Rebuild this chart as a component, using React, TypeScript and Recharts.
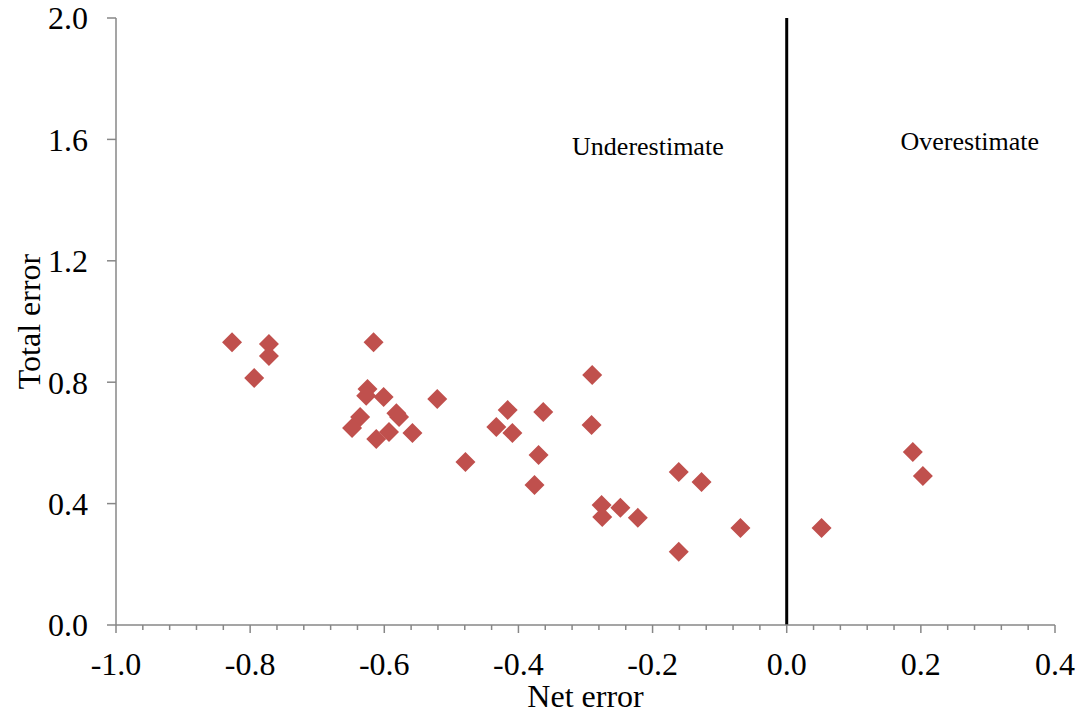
import React from 'react';
import {
  ScatterChart,
  Scatter,
  XAxis,
  YAxis,
  ReferenceLine,
  ReferenceDot,
} from 'recharts';

const netError = [
  -0.827, -0.772, -0.772, -0.794, -0.616, -0.625, -0.627, -0.601, -0.636, -0.648,
  -0.582, -0.578, -0.612, -0.593, -0.558, -0.521, -0.479, -0.416, -0.433, -0.409,
  -0.363, -0.37, -0.376, -0.29, -0.291, -0.276, -0.275, -0.248, -0.222, -0.161,
  -0.127, -0.161, -0.069, 0.052, 0.188, 0.203,
];
const totalError = [
  0.932, 0.926, 0.886, 0.814, 0.932, 0.778, 0.755, 0.751, 0.685, 0.649,
  0.698, 0.685, 0.613, 0.636, 0.633, 0.745, 0.537, 0.708, 0.652, 0.633,
  0.702, 0.56, 0.461, 0.824, 0.659, 0.395, 0.356, 0.386, 0.353, 0.504,
  0.471, 0.241, 0.32, 0.32, 0.57, 0.491,
];

const xTicks = [
  -1, -0.96, -0.92, -0.88, -0.84, -0.8, -0.76, -0.72, -0.68, -0.64, -0.6, -0.56,
  -0.52, -0.48, -0.44, -0.4, -0.36, -0.32, -0.28, -0.24, -0.2, -0.16, -0.12,
  -0.08, -0.04, 0, 0.04, 0.08, 0.12, 0.16, 0.2, 0.24, 0.28, 0.32, 0.36, 0.4,
];
const xMajorTicks = [-1, -0.8, -0.6, -0.4, -0.2, 0, 0.2, 0.4];
const yTicks = [0, 0.4, 0.8, 1.2, 1.6, 2.0];

const annotations = [
  { text: 'Underestimate', x: -0.207, y: 1.58 },
  { text: 'Overestimate', x: 0.273, y: 1.595 },
];

const data = netError.map((x, i) => ({ x, y: totalError[i] }));

const FONT = '"Liberation Serif", "Times New Roman", serif';
const AXIS_GREY = '#878787';
const MARKER = '#C0504D';

const Diamond = (props: any) => {
  const { cx, cy } = props;
  if (cx == null || cy == null) return null;
  const h = 10;
  return (
    <polygon
      points={`${cx},${cy - h} ${cx + h},${cy} ${cx},${cy + h} ${cx - h},${cy}`}
      fill={MARKER}
    />
  );
};

const XTick = (props: any) => {
  const { x, y, payload } = props;
  const v = payload.value;
  const major = xMajorTicks.some((m) => Math.abs(m - v) < 1e-6);
  return (
    <g>
      <line x1={x} x2={x} y1={y} y2={y + (major ? 8 : 5)} stroke={AXIS_GREY} strokeWidth={1.5} />
      {major && (
        <text
          x={x}
          y={y + 27}
          dy="0.71em"
          textAnchor="middle"
          fill="#000"
          fontSize={32}
          fontFamily={FONT}
        >
          {Number(v).toFixed(1)}
        </text>
      )}
    </g>
  );
};

export default function App() {
  return (
    <div style={{ position: 'absolute', left: 0, top: 0, background: '#fff' }}>
      <ScatterChart
        width={1081}
        height={715}
        margin={{ top: 18, right: 26, bottom: 0, left: 0 }}
      >
        <XAxis
          type="number"
          dataKey="x"
          domain={[-1, 0.4]}
          ticks={xTicks}
          interval={0}
          height={90}
          tickLine={false}
          tickSize={0}
          tickMargin={0}
          tick={<XTick />}
          axisLine={{ stroke: AXIS_GREY, strokeWidth: 1.5 }}
          allowDataOverflow
          label={{
            value: 'Net error',
            position: 'insideBottom',
            offset: 8,
            fill: '#000',
            fontSize: 32,
            fontFamily: FONT,
          }}
        />
        <XAxis
          xAxisId="top"
          orientation="top"
          type="number"
          domain={[-1, 0.4]}
          height={0}
          tick={false}
          tickLine={false}
          axisLine={{ stroke: '#000', strokeWidth: 2 }}
        />
        <YAxis
          type="number"
          dataKey="y"
          domain={[0, 2]}
          ticks={yTicks}
          interval={0}
          width={116}
          tickSize={9}
          tickMargin={19}
          tickFormatter={(v: number) => v.toFixed(1)}
          tick={{ fill: '#000', fontSize: 32, fontFamily: FONT }}
          tickLine={{ stroke: AXIS_GREY, strokeWidth: 1.5 }}
          axisLine={{ stroke: AXIS_GREY, strokeWidth: 1.5 }}
          allowDataOverflow
          label={{
            value: 'Total error',
            position: 'insideLeft',
            content: (p: any) => {
              const vb = p.viewBox || {};
              const cy = vb.y + vb.height / 2;
              return (
                <text
                  x={29}
                  y={cy}
                  transform={`rotate(-90, 29, ${cy})`}
                  textAnchor="middle"
                  dominantBaseline="central"
                  fill="#000"
                  fontSize={32}
                  fontFamily={FONT}
                >
                  Total error
                </text>
              );
            },
          }}
        />
        <YAxis
          yAxisId="right"
          orientation="right"
          type="number"
          domain={[0, 2]}
          width={0}
          tick={false}
          tickLine={false}
          axisLine={{ stroke: '#000', strokeWidth: 2 }}
        />
        <ReferenceLine x={0} stroke="#000" strokeWidth={3} />
        {annotations.map((a) => (
          <ReferenceDot
            key={a.text}
            x={a.x}
            y={a.y}
            r={0}
            stroke="none"
            fill="none"
            label={{
              value: a.text,
              position: 'center',
              fill: '#000',
              fontSize: 26,
              fontFamily: FONT,
            }}
          />
        ))}
        <Scatter data={data} shape={<Diamond />} isAnimationActive={false} />
      </ScatterChart>
    </div>
  );
}
